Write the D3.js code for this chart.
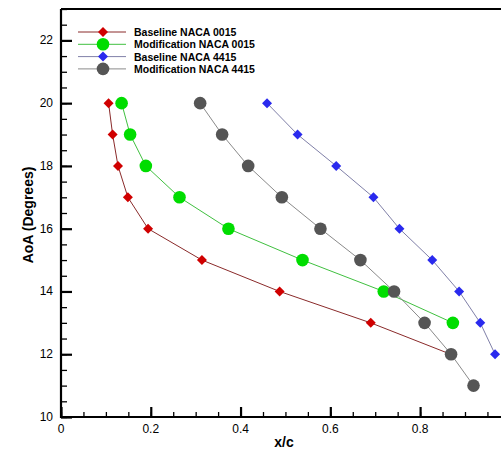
<!DOCTYPE html>
<html>
<head>
<meta charset="utf-8">
<script src="https://cdn.jsdelivr.net/npm/d3@7"></script>
<style>
  body { margin: 0; background: #fff; }
  text { font-family: Arial, "Liberation Sans", sans-serif; }
</style>
</head>
<body>
<div id="chart"></div>
<script>
// AoA values, one per point
var aoa0015 = [20, 19, 18, 17, 16, 15, 14, 13, 12];
var aoaMod0015 = [20, 19, 18, 17, 16, 15, 14, 13];
var aoa4415 = [20, 19, 18, 17, 16, 15, 14, 13, 12];
var aoaMod4415 = [20, 19, 18, 17, 16, 15, 14, 13, 12, 11];

// x/c
var baseline0015 = [0.106, 0.115, 0.127, 0.149, 0.194, 0.314, 0.487, 0.690, 0.868];
var mod0015 = [0.135, 0.154, 0.189, 0.264, 0.373, 0.538, 0.719, 0.873];
var baseline4415 = [0.459, 0.527, 0.613, 0.696, 0.754, 0.827, 0.887, 0.934, 0.967];
var mod4415 = [0.310, 0.359, 0.417, 0.492, 0.578, 0.667, 0.742, 0.810, 0.869, 0.919];

var xTicks = [0, 0.2, 0.4, 0.6, 0.8];
var yTicks = [10, 12, 14, 16, 18, 20, 22];

var series = [
  { label: "Baseline NACA 0015", x: baseline0015, y: aoa0015, line: "#8a2a2a", fill: "#d00000", shape: "diamond" },
  { label: "Modification NACA 0015", x: mod0015, y: aoaMod0015, line: "#40c040", fill: "#00dd00", shape: "circle" },
  { label: "Baseline NACA 4415", x: baseline4415, y: aoa4415, line: "#8080a8", fill: "#2a2aee", shape: "diamond" },
  { label: "Modification NACA 4415", x: mod4415, y: aoaMod4415, line: "#8a8a8a", fill: "#555555", shape: "circle" }
];

var width = 501, height = 453;
var margin = { left: 61, top: 9, right: 1, bottom: 36 };

var svg = d3.select('#chart').append('svg')
  .attr('width', width)
  .attr('height', height);

var x = d3.scaleLinear().domain([0, 0.978]).range([margin.left, width - margin.right]);
var y = d3.scaleLinear().domain([10, 23]).range([height - margin.bottom, margin.top]);

// minor ticks first, then majors
var xAxis = svg.append('g')
  .attr('transform', 'translate(0,' + y(10) + ')');
xAxis.call(d3.axisTop(x).tickValues(d3.range(0, 0.976, 0.05)).tickSize(5).tickFormat(''));
xAxis.call(function(g) { g.select('.domain').remove(); });
var xMajor = svg.append('g')
  .attr('transform', 'translate(0,' + y(10) + ')')
  .call(d3.axisTop(x).tickValues(xTicks).tickSize(10).tickFormat(''));
xMajor.select('.domain').remove();
svg.selectAll('.tick line').attr('stroke', '#000').attr('stroke-width', 1.3);
xMajor.selectAll('.tick line').attr('stroke-width', 2.2);

var yAxis = svg.append('g')
  .attr('transform', 'translate(' + x(0) + ',0)');
yAxis.call(d3.axisRight(y).tickValues(d3.range(10, 23.01, 0.5)).tickSize(6).tickFormat(''));
yAxis.select('.domain').remove();
yAxis.selectAll('.tick line').attr('stroke', '#000').attr('stroke-width', 1.3);
var yMajor = svg.append('g')
  .attr('transform', 'translate(' + x(0) + ',0)')
  .call(d3.axisRight(y).tickValues(yTicks).tickSize(11).tickFormat(''));
yMajor.select('.domain').remove();
yMajor.selectAll('.tick line').attr('stroke', '#000').attr('stroke-width', 2.2);

// tick labels
svg.append('g').selectAll('text')
  .data(xTicks)
  .enter().append('text')
  .attr('x', function(d) { return x(d); })
  .attr('y', y(10) + 16)
  .attr('text-anchor', 'middle')
  .attr('font-size', 12)
  .text(function(d) { return d; });

svg.append('g').selectAll('text')
  .data(yTicks)
  .enter().append('text')
  .attr('x', x(0) - 8)
  .attr('y', function(d) { return y(d) + 4; })
  .attr('text-anchor', 'end')
  .attr('font-size', 12)
  .text(function(d) { return d; });

// frame
svg.append('path')
  .attr('d', 'M' + x(0) + ',' + y(23) + 'V' + y(10) + 'H' + (width + 2) +
             'M' + x(0) + ',' + y(23) + 'H' + (width + 2))
  .attr('fill', 'none')
  .attr('stroke', '#000')
  .attr('stroke-width', 2.2);

// axis titles
svg.append('text')
  .attr('x', 284)
  .attr('y', 447)
  .attr('text-anchor', 'middle')
  .attr('font-size', 14)
  .attr('font-weight', 'bold')
  .text('x/c');

svg.append('text')
  .attr('transform', 'translate(33,215) rotate(-90)')
  .attr('text-anchor', 'middle')
  .attr('font-size', 14)
  .attr('font-weight', 'bold')
  .text('AoA (Degrees)');

var line = d3.line()
  .x(function(d) { return x(d[0]); })
  .y(function(d) { return y(d[1]); });

var diamond = d3.symbol().type(d3.symbolSquare).size(50);

function drawMarker(g, shape, fill) {
  if (shape === 'circle') {
    g.append('circle').attr('r', 6.3).attr('fill', fill);
  } else {
    g.append('path').attr('d', diamond).attr('transform', 'rotate(45)').attr('fill', fill);
  }
}

series.forEach(function(s) {
  var pts = s.x.map(function(v, i) { return [v, s.y[i]]; });
  svg.append('path')
    .datum(pts)
    .attr('d', line)
    .attr('fill', 'none')
    .attr('stroke', s.line)
    .attr('stroke-width', 1);
  svg.append('g').selectAll('g')
    .data(pts)
    .enter().append('g')
    .attr('transform', function(d) { return 'translate(' + x(d[0]) + ',' + y(d[1]) + ')'; })
    .each(function() { drawMarker(d3.select(this), s.shape, s.fill); });
});

// legend
var legend = svg.append('g').attr('transform', 'translate(78,32)');
series.forEach(function(s, i) {
  var row = legend.append('g').attr('transform', 'translate(0,' + (i * 12.3) + ')');
  row.append('line')
    .attr('x1', 0).attr('x2', 48)
    .attr('stroke', s.line).attr('stroke-width', 1);
  drawMarker(row.append('g').attr('transform', 'translate(25,0)'), s.shape, s.fill);
  row.append('text')
    .attr('x', 56)
    .attr('y', 4)
    .attr('font-size', 10.5)
    .attr('font-weight', 'bold')
    .text(s.label);
});
</script>
</body>
</html>
